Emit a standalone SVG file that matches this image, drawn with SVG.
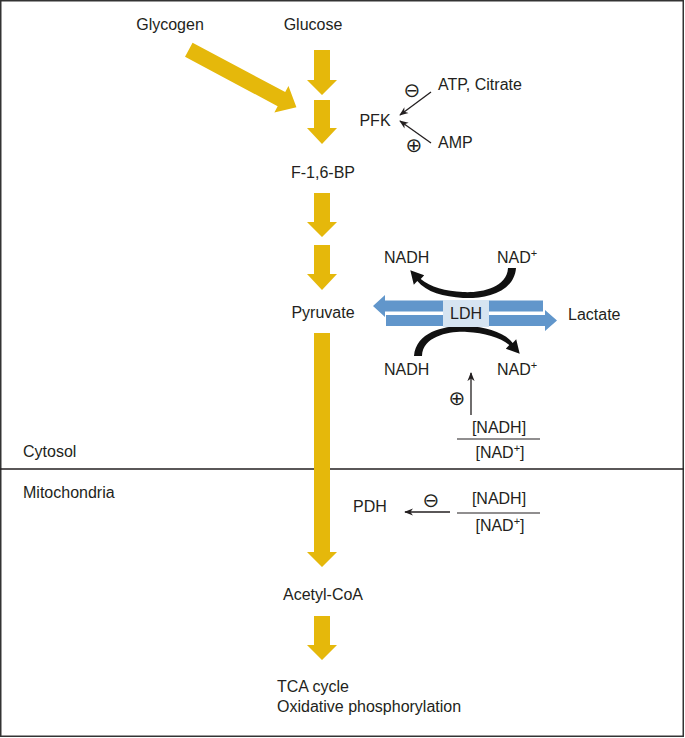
<svg xmlns="http://www.w3.org/2000/svg" xmlns:xlink="http://www.w3.org/1999/xlink" width="685" height="738" viewBox="0 0 685 738">
<style>
text{font-family:"Liberation Sans",Arial,sans-serif;font-size:16px;fill:#231F20}
.sym{font-family:"DejaVu Sans",sans-serif;font-size:20px}
.y{fill:#E5B80B}
.b{fill:#6196CB}
.ln{stroke:#231F20;stroke-width:1.3;fill:none}
</style>
<defs>
<marker id="ah" viewBox="0 0 10 10" refX="9" refY="5" markerWidth="9" markerHeight="9" markerUnits="userSpaceOnUse" orient="auto">
<path d="M0,1 L10,5 L0,9 L3,5 Z" fill="#231F20"/>
</marker>
<path id="curve" fill="#111" d="M516,268 C514,294 482,299 463,298 C444,297 426,292 417.3,281.1 L413.8,284.7 L410.3,270.3 L424.2,275.3 L420.7,278.9 C430,287 446,291 463,292 C478,293 507,289 508,268 Z"/>
</defs>
<rect x="0.75" y="0.75" width="682.5" height="735.5" fill="#fff" stroke="#333" stroke-width="1.5"/>
<line x1="0" y1="469" x2="684" y2="469" stroke="#231F20" stroke-width="1.3"/>
<g id="connectors">
<path class="y" d="M314,50 H330 V80 H337 L322,95 L307,80 H314 Z"/>
<path class="y" d="M314,100 H330 V128 H337 L322,144 L307,128 H314 Z"/>
<path class="y" transform="translate(188.8,49.7) rotate(-61.9)" d="M-8,0 H8 V105 H15 L0,122 L-15,105 H-8 Z"/>
<path class="y" d="M314,193 H330 V222 H337 L322,237 L307,222 H314 Z"/>
<path class="y" d="M314,245 H330 V274 H337 L322,290 L307,274 H314 Z"/>
<path class="y" d="M314,333 H330 V552 H337 L322,567 L307,552 H314 Z"/>
<path class="y" d="M314,616 H330 V645 H337 L322,660 L307,645 H314 Z"/>
<line class="ln" x1="431" y1="92" x2="400" y2="115" marker-end="url(#ah)"/>
<line class="ln" x1="431" y1="143" x2="400" y2="121" marker-end="url(#ah)"/>
<path class="b" d="M543,300.5 V311.5 H385 V317 L373,306 L385,295 V300.5 Z"/>
<path class="b" d="M386,315 V326 H545 V331 L557,320.5 L545,310 V315 Z"/>
<use xlink:href="#curve"/>
<use xlink:href="#curve" transform="rotate(180 465 312)"/>
<line class="ln" x1="471" y1="415" x2="471" y2="373" marker-end="url(#ah)"/>
<line class="ln" x1="450" y1="512" x2="405" y2="512" marker-end="url(#ah)"/>
</g>
<g id="glycogen"><text x="170" y="30" text-anchor="middle">Glycogen</text></g>
<g id="glucose"><text x="313" y="30" text-anchor="middle">Glucose</text></g>
<g id="pfk"><text x="375" y="126" text-anchor="middle">PFK</text></g>
<g id="atp"><text x="438" y="90">ATP, Citrate</text><text class="sym" x="412" y="97" text-anchor="middle">⊖</text></g>
<g id="amp"><text x="438" y="148">AMP</text><text class="sym" x="414" y="152" text-anchor="middle">⊕</text></g>
<g id="f16bp"><text x="323" y="178" text-anchor="middle">F-1,6-BP</text></g>
<g id="pyruvate"><text x="323" y="318" text-anchor="middle">Pyruvate</text></g>
<g id="ldh"><rect x="443" y="300" width="46" height="27" fill="#D6E4F1"/><text x="466" y="319" text-anchor="middle">LDH</text></g>
<g id="lactate"><text x="568" y="320">Lactate</text></g>
<g id="nadh-top"><text x="384" y="263">NADH</text></g>
<g id="nad-top"><text x="497" y="263">NAD<tspan dy="-6" font-size="11">+</tspan></text></g>
<g id="nadh-bottom"><text x="384" y="375">NADH</text></g>
<g id="nad-bottom"><text x="497" y="375">NAD<tspan dy="-6" font-size="11">+</tspan></text></g>
<g id="ratio1">
<text class="sym" x="457" y="405" text-anchor="middle">⊕</text>
<text x="499" y="433" text-anchor="middle">[NADH]</text>
<line x1="457" y1="439" x2="540" y2="439" stroke="#231F20" stroke-width="1.2"/>
<text x="500" y="458" text-anchor="middle">[NAD<tspan dy="-6" font-size="11">+</tspan><tspan dy="6">]</tspan></text>
</g>
<g id="cytosol"><text x="23" y="457">Cytosol</text></g>
<g id="mitochondria"><text x="23" y="498">Mitochondria</text></g>
<g id="pdh"><text x="353" y="512">PDH</text><text class="sym" x="431" y="507" text-anchor="middle">⊖</text></g>
<g id="ratio2">
<text x="499" y="504" text-anchor="middle">[NADH]</text>
<line x1="457" y1="513" x2="540" y2="513" stroke="#231F20" stroke-width="1.2"/>
<text x="500" y="531" text-anchor="middle">[NAD<tspan dy="-6" font-size="11">+</tspan><tspan dy="6">]</tspan></text>
</g>
<g id="acetylcoa"><text x="323" y="600" text-anchor="middle">Acetyl-CoA</text></g>
<g id="tca"><text x="277" y="692">TCA cycle</text><text x="277" y="712">Oxidative phosphorylation</text></g>
</svg>
